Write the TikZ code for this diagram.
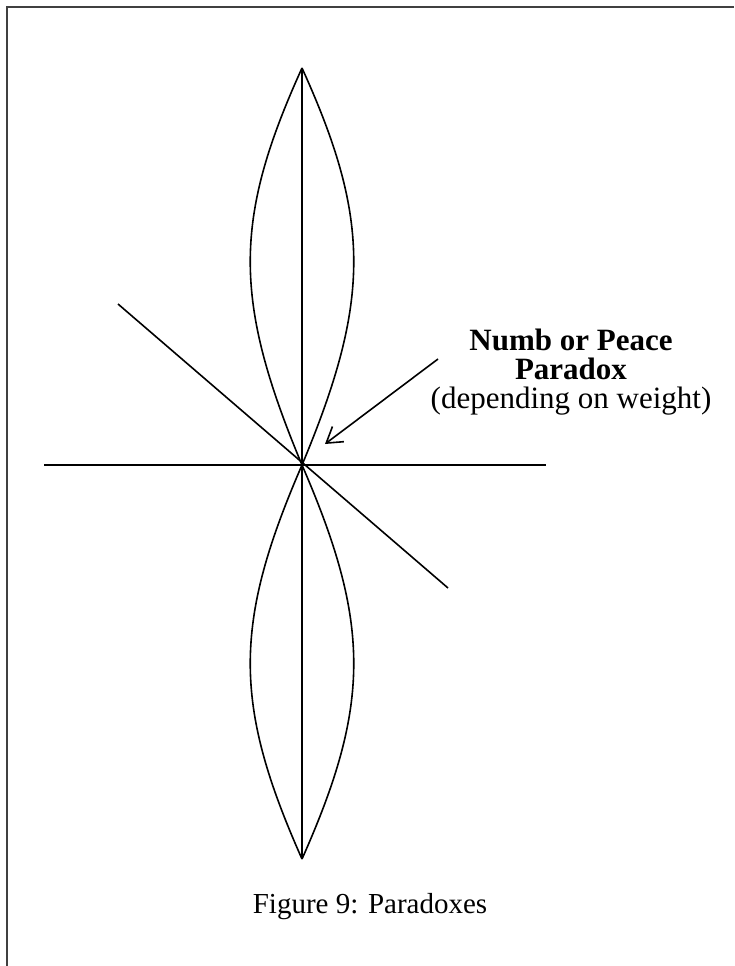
\documentclass[tikz,border=0pt]{standalone}
\usepackage{fontspec}
\setmainfont{Liberation Serif}
\usepackage{tikz}
\usetikzlibrary{arrows.meta}

\begin{document}
\begin{tikzpicture}[x=1pt, y=-1pt, every node/.style={font=\fontsize{31}{29}\selectfont, inner sep=0pt}]
      \tikzstyle{axisline}=[line width=1.6pt, black]
      \tikzstyle{petal}=[line width=1.6pt, black]
      \tikzstyle{frameline}=[line width=1.8pt, black!75]
      \useasboundingbox (0,0) rectangle (734,966);
      \draw[frameline] (734,7) -- (7,7) -- (7,966);
      \coordinate (c) at (302,465);
      \coordinate (top) at (302,68);
      \coordinate (bot) at (302,859);
      \coordinate (hl) at (44,465);
      \coordinate (hr) at (546,465);
      \coordinate (dl) at (118,304);
      \coordinate (dr) at (448,588);
      \draw[axisline] (top) -- (bot);
      \draw[axisline] (hl) -- (hr);
      \draw[axisline] (dl) -- (dr);
      % upper and lower lobes
      \draw[petal] (top) .. controls (233,220) and (233,300) .. (c);
      \draw[petal] (top) .. controls (371,220) and (371,300) .. (c);
      \draw[petal] (bot) .. controls (233,704) and (233,624) .. (c);
      \draw[petal] (bot) .. controls (371,704) and (371,624) .. (c);
      \node[align=center] (label) at (571,372) {\textbf{Numb or Peace}\\\textbf{Paradox}\\(depending on weight)};
      \coordinate (from) at (438,359);
      \coordinate (to) at (325,444);
      \draw[line width=1.6pt, -{Straight Barb[length=15pt, width=19pt]}] (from) -- (to);
      \node[font=\fontsize{29}{32}\selectfont] (caption) at (370,907) {Figure 9: Paradoxes};
    \end{tikzpicture}
\end{document}
